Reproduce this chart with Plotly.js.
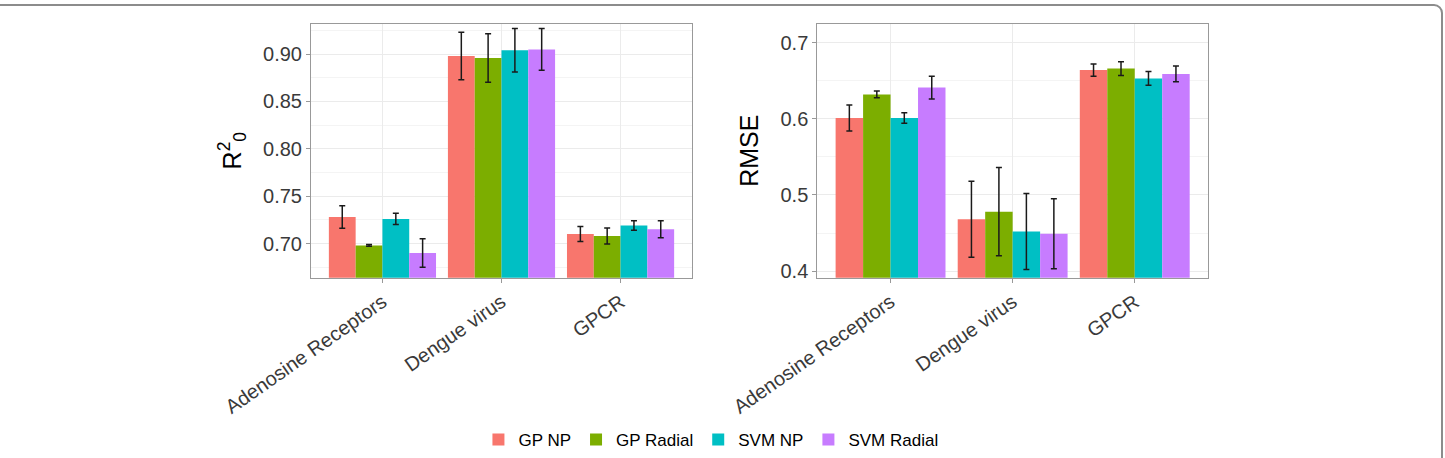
<!DOCTYPE html>
<html>
<head>
<meta charset="utf-8">
<script src="https://cdn.plot.ly/plotly-3.0.1.min.js"></script>
<style>
html, body { margin: 0; padding: 0; background: #fff; overflow: hidden; }
#chart { width: 1445px; height: 458px; position: absolute; left: 0; top: 0; }
#frame { position: absolute; left: -20px; top: 4px; width: 1463px; height: 520px;
  border: 2px solid #8c8c8c; border-radius: 9px; box-sizing: border-box; pointer-events: none; }
</style>
</head>
<body>
<div id="chart"></div>
<div id="frame"></div>
<script>
const categories = ["Adenosine Receptors", "Dengue virus", "GPCR"];
const seriesNames = ["GP NP", "GP Radial", "SVM NP", "SVM Radial"];
const colors = ["#F8766D", "#7CAE00", "#00BFC4", "#C77CFF"];

// R^2_0 panel
const r2GPNP      = [0.728, 0.898, 0.710];
const r2GPRadial  = [0.698, 0.896, 0.708];
const r2SVMNP     = [0.726, 0.904, 0.719];
const r2SVMRadial = [0.690, 0.905, 0.715];
const r2ErrGPNP      = [0.012, 0.025, 0.008];
const r2ErrGPRadial  = [0.001, 0.0256, 0.0085];
const r2ErrSVMNP     = [0.006, 0.023, 0.005];
const r2ErrSVMRadial = [0.015, 0.022, 0.009];

// RMSE panel
const rmseGPNP      = [0.601, 0.468, 0.664];
const rmseGPRadial  = [0.632, 0.478, 0.666];
const rmseSVMNP     = [0.601, 0.452, 0.653];
const rmseSVMRadial = [0.641, 0.449, 0.659];
const rmseErrGPNP      = [0.017, 0.050, 0.008];
const rmseErrGPRadial  = [0.0045, 0.058, 0.009];
const rmseErrSVMNP     = [0.007, 0.050, 0.009];
const rmseErrSVMRadial = [0.015, 0.046, 0.0103];

const r2Vals = [r2GPNP, r2GPRadial, r2SVMNP, r2SVMRadial];
const r2Errs = [r2ErrGPNP, r2ErrGPRadial, r2ErrSVMNP, r2ErrSVMRadial];
const rmseVals = [rmseGPNP, rmseGPRadial, rmseSVMNP, rmseSVMRadial];
const rmseErrs = [rmseErrGPNP, rmseErrGPRadial, rmseErrSVMNP, rmseErrSVMRadial];

const traces = [];
seriesNames.forEach((name, i) => {
  traces.push({
    type: "bar", name: name, x: categories, y: r2Vals[i],
    xaxis: "x", yaxis: "y", legendgroup: name, showlegend: true,
    marker: { color: colors[i], line: { width: 0 } },
    error_y: { type: "data", array: r2Errs[i], visible: true, color: "#1a1a1a", thickness: 1.5, width: 3 },
    hoverinfo: "x+y+name"
  });
});
seriesNames.forEach((name, i) => {
  traces.push({
    type: "bar", name: name, x: categories, y: rmseVals[i],
    xaxis: "x2", yaxis: "y2", legendgroup: name, showlegend: false,
    marker: { color: colors[i], line: { width: 0 } },
    error_y: { type: "data", array: rmseErrs[i], visible: true, color: "#1a1a1a", thickness: 1.5, width: 3 },
    hoverinfo: "x+y+name"
  });
});

const FAM = "Liberation Sans, Arial, sans-serif";
const tickFont = { family: FAM, size: 20, color: "#3a3a3a" };
const titleFont = { family: FAM, size: 25, color: "#000000" };
const W = 1445, H = 458;
const yDom = [1 - 282 / H, 1 - 24 / H];

const xCommon = {
  type: "category", range: [-0.6, 2.6], tickangle: -35,
  tickfont: tickFont, showgrid: true, gridcolor: "#EBEBEB", gridwidth: 1,
  showline: true, mirror: true, linecolor: "#999999", linewidth: 1,
  ticks: "outside", ticklen: 4, tickcolor: "#999999", zeroline: false, fixedrange: true
};
const yCommon = {
  tickfont: tickFont, showgrid: true, gridcolor: "#EBEBEB", gridwidth: 1,
  showline: true, mirror: true, linecolor: "#999999", linewidth: 1,
  ticks: "outside", ticklen: 4, tickcolor: "#999999", zeroline: false, fixedrange: true,
  domain: yDom
};

const layout = {
  width: W, height: H,
  margin: { l: 0, r: 0, t: 0, b: 0 },
  paper_bgcolor: "rgba(0,0,0,0)", plot_bgcolor: "#ffffff",
  barmode: "group", bargap: 0.1, bargroupgap: 0,
  showlegend: true,
  legend: {
    orientation: "h", x: 0.492, xanchor: "center", y: 1 - 447 / H, yanchor: "middle",
    font: { family: FAM, size: 17, color: "#000" },
    itemwidth: 30, traceorder: "normal", bgcolor: "rgba(0,0,0,0)", tracegroupgap: 0
  },
  xaxis: Object.assign({}, xCommon, { domain: [311 / W, 692 / W], anchor: "y" }),
  yaxis: Object.assign({}, yCommon, {
    anchor: "x", range: [0.6639, 0.9322], tick0: 0.7, dtick: 0.05, tickformat: ".2f",
    minor: { tick0: 0.675, dtick: 0.05, showgrid: true, gridcolor: "#F4F4F4", ticklen: 0 },
    title: { text: "R<sup>2</sup><sub>0</sub>", font: titleFont, standoff: 14 }
  }),
  xaxis2: Object.assign({}, xCommon, { domain: [817.3 / W, 1208 / W], anchor: "y2" }),
  yaxis2: Object.assign({}, yCommon, {
    anchor: "x2", range: [0.3913, 0.725], tick0: 0.4, dtick: 0.1, tickformat: ".1f",
    minor: { tick0: 0.45, dtick: 0.1, showgrid: true, gridcolor: "#F4F4F4", ticklen: 0 },
    title: { text: "RMSE", font: titleFont, standoff: 14 }
  })
};

Plotly.newPlot("chart", traces, layout, { displayModeBar: false, staticPlot: false });
</script>
</body>
</html>
